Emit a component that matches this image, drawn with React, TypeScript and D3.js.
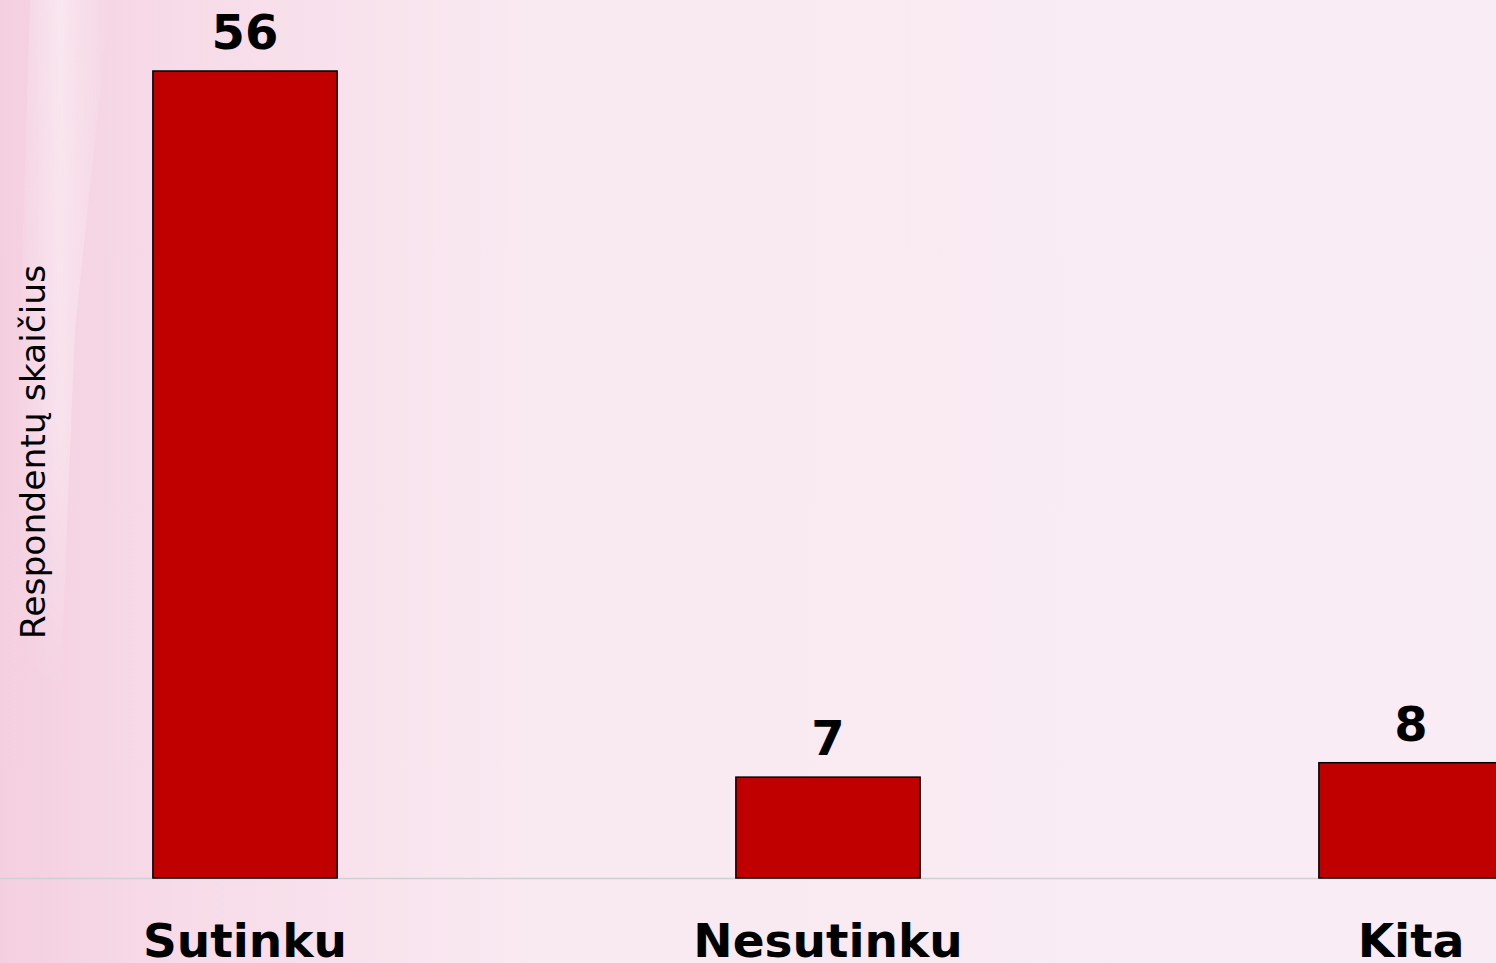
import { useRef, useEffect } from "react";
import * as d3 from "d3";

const categories = ["Sutinku", "Nesutinku", "Kita"];
const counts = [56, 7, 8];
const yLabel = "Respondentų skaičius";

const width = 1496;
const height = 963;
const baseY = 878;
const font = "'DejaVu Sans', Verdana, sans-serif";

const App = () => {
  const svgRef = useRef<SVGSVGElement>(null);

  useEffect(() => {
    const svg = d3.select(svgRef.current);
    svg.selectAll("*").remove();

    const defs = svg.append("defs");
    const grad = defs
      .append("linearGradient")
      .attr("id", "bgGrad")
      .attr("x1", "0")
      .attr("x2", "1")
      .attr("y1", "0")
      .attr("y2", "0");
    grad.append("stop").attr("offset", "0").attr("stop-color", "#f4cfe0");
    grad.append("stop").attr("offset", "0.12").attr("stop-color", "#f7dbe8");
    grad.append("stop").attr("offset", "0.35").attr("stop-color", "#f9e9f1");
    grad.append("stop").attr("offset", "1").attr("stop-color", "#f9edf5");

    const streak = defs
      .append("linearGradient")
      .attr("id", "streak")
      .attr("x1", "0")
      .attr("x2", "1");
    streak.append("stop").attr("offset", "0").attr("stop-color", "#fff").attr("stop-opacity", 0);
    streak.append("stop").attr("offset", "0.5").attr("stop-color", "#fff").attr("stop-opacity", 0.45);
    streak.append("stop").attr("offset", "1").attr("stop-color", "#fff").attr("stop-opacity", 0);

    const fade = defs
      .append("linearGradient")
      .attr("id", "fade")
      .attr("x1", "0")
      .attr("x2", "0")
      .attr("y1", "0")
      .attr("y2", "1");
    fade.append("stop").attr("offset", "0").attr("stop-color", "#fff").attr("stop-opacity", 1);
    fade.append("stop").attr("offset", "0.6").attr("stop-color", "#fff").attr("stop-opacity", 0.8);
    fade.append("stop").attr("offset", "1").attr("stop-color", "#fff").attr("stop-opacity", 0);
    defs
      .append("mask")
      .attr("id", "streakMask")
      .append("rect")
      .attr("width", 200)
      .attr("height", 700)
      .attr("fill", "url(#fade)");

    svg.append("rect").attr("width", width).attr("height", height).attr("fill", "url(#bgGrad)");
    svg
      .append("path")
      .attr("d", "M30,0 L110,0 L75,330 L60,700 L10,700 L20,330 Z")
      .attr("fill", "url(#streak)")
      .attr("mask", "url(#streakMask)");

    const x = d3
      .scaleBand()
      .domain(categories)
      .range([-46.5, 1702.5])
      .paddingInner(0.684)
      .paddingOuter(0.342);

    const y = d3.scaleLinear().domain([0, 56]).range([baseY, 71]);

    svg
      .append("line")
      .attr("x1", 0)
      .attr("x2", width)
      .attr("y1", baseY + 0.5)
      .attr("y2", baseY + 0.5)
      .attr("stroke", "#cfcfd4")
      .attr("stroke-width", 1.5);

    const rows = categories.map((c, i) => ({ c, v: counts[i] }));

    svg
      .selectAll("rect.bar")
      .data(rows)
      .enter()
      .append("rect")
      .attr("class", "bar")
      .attr("x", (d) => x(d.c)!)
      .attr("y", (d) => y(d.v))
      .attr("width", x.bandwidth())
      .attr("height", (d) => baseY - y(d.v))
      .attr("fill", "#c00000")
      .attr("stroke", "#000")
      .attr("stroke-width", 1.5);

    svg
      .selectAll("text.val")
      .data(rows)
      .enter()
      .append("text")
      .attr("class", "val")
      .attr("x", (d) => x(d.c)! + x.bandwidth() / 2)
      .attr("y", (d) => y(d.v) - 22)
      .attr("text-anchor", "middle")
      .attr("font-family", font)
      .attr("font-weight", "bold")
      .attr("font-size", 48)
      .attr("fill", "#000")
      .text((d) => d.v);

    svg
      .selectAll("text.cat")
      .data(rows)
      .enter()
      .append("text")
      .attr("class", "cat")
      .attr("x", (d) => x(d.c)! + x.bandwidth() / 2)
      .attr("y", 957)
      .attr("text-anchor", "middle")
      .attr("font-family", font)
      .attr("font-weight", "bold")
      .attr("font-size", 47)
      .attr("fill", "#000")
      .text((d) => d.c);

    svg
      .append("text")
      .attr("transform", "translate(45,452) rotate(-90)")
      .attr("text-anchor", "middle")
      .attr("font-family", font)
      .attr("font-size", 34.5)
      .attr("fill", "#000")
      .text(yLabel);
  }, []);

  return (
    <svg
      ref={svgRef}
      width={width}
      height={height}
      style={{ position: "absolute", left: 0, top: 0, display: "block" }}
    ></svg>
  );
};

export default App;
